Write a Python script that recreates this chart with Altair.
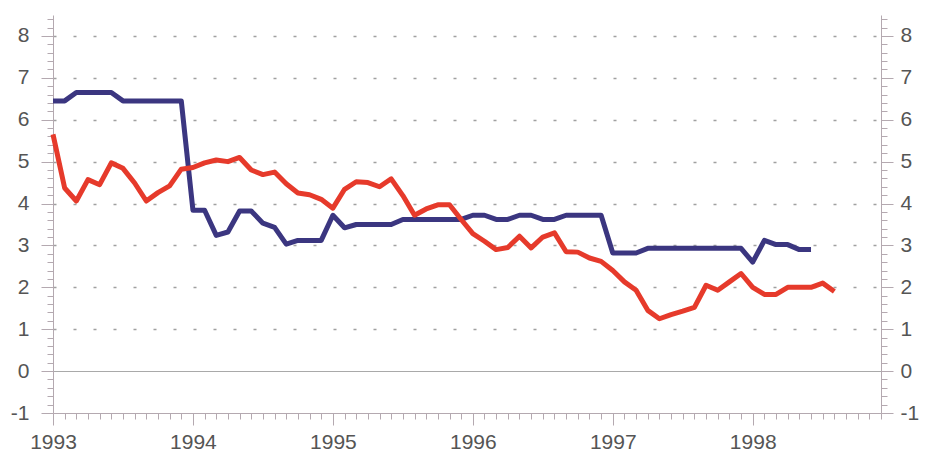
import altair as alt
import pandas as pd

# ---- data (monthly, starting January 1993) ----
start_year = 1993
blue_values = [
    6.45, 6.45, 6.65, 6.65, 6.65, 6.65, 6.45, 6.45, 6.45, 6.45, 6.45, 6.45,   # 1993
    3.84, 3.84, 3.24, 3.32, 3.82, 3.82, 3.53, 3.43, 3.03, 3.12, 3.12, 3.12,   # 1994
    3.72, 3.42, 3.5, 3.5, 3.5, 3.5, 3.62, 3.62, 3.62, 3.62, 3.62, 3.62,       # 1995
    3.72, 3.72, 3.62, 3.62, 3.72, 3.72, 3.62, 3.62, 3.72, 3.72, 3.72, 3.72,   # 1996
    2.82, 2.82, 2.82, 2.93, 2.93, 2.93, 2.93, 2.93, 2.93, 2.93, 2.93, 2.93,   # 1997
    2.6, 3.12, 3.02, 3.02, 2.9, 2.9,                                           # 1998
]
red_values = [
    5.65, 4.37, 4.06, 4.57, 4.45, 4.97, 4.84, 4.49, 4.06, 4.26, 4.42, 4.82,   # 1993
    4.86, 4.97, 5.04, 5.0, 5.1, 4.8, 4.69, 4.75, 4.47, 4.25, 4.21, 4.1,       # 1994
    3.89, 4.34, 4.52, 4.5, 4.4, 4.59, 4.19, 3.72, 3.87, 3.97, 3.97, 3.62,     # 1995
    3.28, 3.1, 2.9, 2.95, 3.22, 2.94, 3.2, 3.3, 2.85, 2.84, 2.7, 2.62,        # 1996
    2.4, 2.13, 1.93, 1.45, 1.25, 1.35, 1.43, 1.52, 2.05, 1.93, 2.13, 2.33,    # 1997
    2.0, 1.83, 1.83, 2.0, 2.0, 2.0, 2.1, 1.9,                                  # 1998
]
year_labels = [1993, 1994, 1995, 1996, 1997, 1998]
y_labels = [-1, 0, 1, 2, 3, 4, 5, 6, 7, 8]

x_domain = [start_year, year_labels[-1] + 11 / 12]
y_domain = [-1, 8.5]

blue_df = pd.DataFrame({"t": [start_year + i / 12 for i in range(len(blue_values))], "v": blue_values})
red_df = pd.DataFrame({"t": [start_year + i / 12 for i in range(len(red_values))], "v": red_values})

x_ticks = [start_year + k / 12 for k in range(12 * len(year_labels))]
y_ticks = [round(-1 + 0.2 * k, 1) for k in range(48)]

FONT = "Liberation Sans"
FS = 21
AXC = "#b4a9b0"
TXT = "#555555"
is_int = "abs(datum.value - round(datum.value)) < 0.01"
label_expr = f"{is_int} ? '' + round(datum.value) : ''"
tick_size = {"condition": {"test": is_int, "value": 12}, "value": 6}

x_axis = alt.Axis(
    values=x_ticks, labelExpr=label_expr, tickSize=tick_size,
    labelFlush=False, labelOverlap=False, labelFont=FONT, labelFontSize=FS,
    labelColor=TXT, labelPadding=6, domainColor=AXC, tickColor=AXC,
    domainWidth=1, tickWidth=1, grid=False, title=None,
)

y_left = alt.Axis(
    orient="left", values=y_ticks, labelExpr=label_expr, tickSize=tick_size,
    labelOverlap=False, labelFont=FONT, labelFontSize=FS, labelColor=TXT,
    labelPadding=12, domainColor=AXC, tickColor=AXC, title=None,
    grid=True,
    gridOpacity={"condition": {"test": f"{is_int} && datum.value > -0.5", "value": 1}, "value": 0},
    gridDash={"condition": {"test": "abs(datum.value) < 0.01", "value": [1, 0]}, "value": [3, 17]},
    gridColor={"condition": {"test": "abs(datum.value) < 0.01", "value": "#8c8c8c"}, "value": "#a0a0a0"},
    gridWidth={"condition": {"test": "abs(datum.value) < 0.01", "value": 1}, "value": 1.5},
)

y_right = alt.Axis(
    orient="right", values=y_ticks, labelExpr=label_expr, tickSize=tick_size,
    labelOverlap=False, labelFont=FONT, labelFontSize=FS, labelColor=TXT,
    labelPadding=7, domainColor=AXC, tickColor=AXC, title=None, grid=False,
)

x_scale = alt.Scale(domain=x_domain, nice=False, zero=False)
y_scale = alt.Scale(domain=y_domain, nice=False, zero=False)

blue = alt.Chart(blue_df).mark_line(color="#3b3680", strokeWidth=5, strokeJoin="round").encode(
    x=alt.X("t:Q", scale=x_scale, axis=x_axis),
    y=alt.Y("v:Q", scale=y_scale, axis=y_left),
)
red = alt.Chart(red_df).mark_line(color="#e63a2b", strokeWidth=5, strokeJoin="round").encode(
    x=alt.X("t:Q", scale=x_scale, axis=x_axis),
    y=alt.Y("v:Q", scale=y_scale, axis=y_right),
)

chart = (
    alt.layer(blue, red)
    .resolve_axis(y="independent")
    .properties(width=828, height=398, background="white",
                padding={"left": 2, "top": 0, "right": 0, "bottom": 0})
    .configure_view(stroke=None)
)

chart.save("out.html", embed_options={"renderer": "svg", "actions": False})
